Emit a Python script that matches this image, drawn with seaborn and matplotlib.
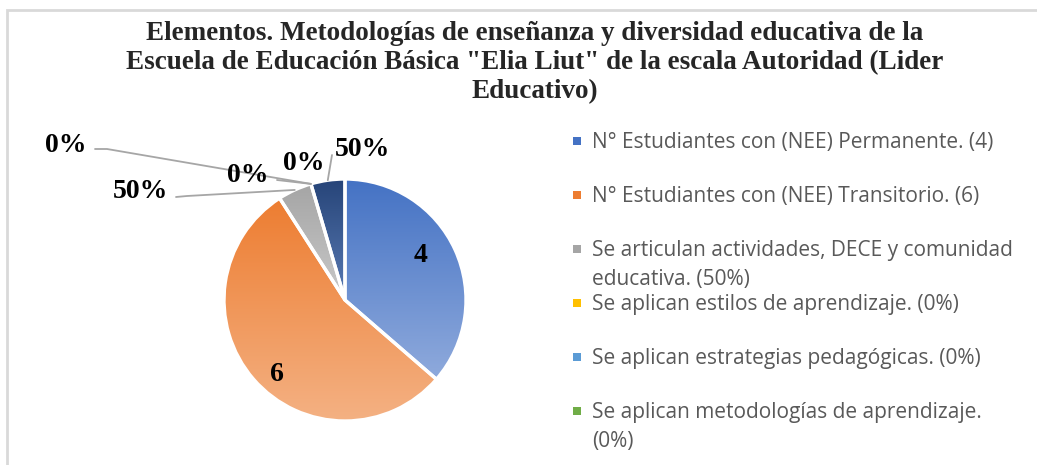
import numpy as np
import matplotlib
matplotlib.use("Agg")
import matplotlib.pyplot as plt
import seaborn as sns
from matplotlib.patches import Rectangle
from matplotlib.colors import to_rgb

# Datos del gráfico
valores = [4, 6, 0.5, 0, 0, 0, 0.5]
etiquetas = ["4", "6", "50%", "0%", "0%", "0%", "50%"]
leyenda = [
    "N° Estudiantes con (NEE) Permanente. (4)",
    "N° Estudiantes con (NEE) Transitorio. (6)",
    "Se articulan actividades, DECE y comunidad\neducativa. (50%)",
    "Se aplican estilos de aprendizaje. (0%)",
    "Se aplican estrategias pedagógicas. (0%)",
    "Se aplican metodologías de aprendizaje.\n(0%)",
]
titulo = ('Elementos. Metodologías de enseñanza y diversidad educativa de la\n'
          'Escuela de Educación Básica "Elia Liut" de la escala Autoridad (Lider\n'
          'Educativo)')

# Colores (degradado de arriba hacia abajo)
color_arriba = ["#4472C4", "#ED7D31", "#A5A5A5", "#FFC000", "#5B9BD5", "#70AD47", "#264478"]
color_abajo = ["#8FAADC", "#F4B183", "#C9C9C9", "#FFD966", "#9DC3E6", "#A9D18E", "#5A7BB4"]

sns.set_theme(style="white")
plt.rcParams["font.family"] = ["Liberation Serif", "DejaVu Sans"]

fig = plt.figure(figsize=(10.37, 4.65), dpi=100)
ax = fig.add_axes([0, 0, 1, 1])

W, H = 1037, 465
cx, cy, r = 345, H - 300, 121

wedges, _ = ax.pie(valores, startangle=90, counterclock=False, center=(cx, cy), radius=r,
                   colors=color_arriba, frame=True,
                   wedgeprops=dict(edgecolor="white", linewidth=2.4))

# relleno degradado de cada porción
t = np.linspace(0, 1, 256)[:, None, None]
for w, c1, c2 in zip(wedges, color_arriba, color_abajo):
    if w.theta2 - w.theta1 <= 0:
        continue
    bb = w.get_path().get_extents()
    img = (1 - t) * np.array(to_rgb(c1)) + t * np.array(to_rgb(c2))
    ax.imshow(img, extent=[bb.x0, bb.x1, bb.y0, bb.y1], origin="upper",
              aspect="auto", zorder=2, clip_path=w)
    w.set_facecolor("none")
    w.set_zorder(3)

# etiquetas de datos (posiciones en píxeles, y hacia abajo)
pos_etq = [(421, 256), (277, 374), (140, 192), (66, 145), (248, 175), (304, 164), (363, 149)]
guias = {2: [(176, 197), (187, 196)], 3: [(95, 149), (107, 149)],
         4: [(277, 180)], 6: [(332, 155)]}

for i, (txt, (x, y)) in enumerate(zip(etiquetas, pos_etq)):
    ax.text(x, H - y, txt, fontsize=20, fontweight="bold", color="black",
            ha="center", va="center", zorder=5)
    if i in guias:
        w = wedges[i]
        ang = np.deg2rad((w.theta1 + w.theta2) / 2)
        px, py = cx + r * np.cos(ang), cy + r * np.sin(ang)
        xs = [p[0] for p in guias[i]] + [px]
        ys = [H - p[1] for p in guias[i]] + [py]
        ax.plot(xs, ys, color="#A6A6A6", lw=1.3, zorder=4)

# leyenda manual
for i, lab in enumerate(leyenda):
    yc = H - (141 + i * 54)
    ax.add_patch(Rectangle((573, yc - 4), 8, 8, color=color_arriba[i], lw=0))
    for j, linea in enumerate(lab.split("\n")):
        ax.text(592, yc - 7 - j * 29, linea, fontsize=15, color="#595959",
                ha="left", va="baseline", family=["Open Sans", "DejaVu Sans"])

# título
fig.text(535 / W, 1 - 21 / H, titulo, fontsize=19.5, fontweight="bold", ha="center",
         va="top", linespacing=1.22)

# borde del área del gráfico
ax.add_patch(Rectangle((7, -20), 1100, H - 10 + 20, fill=False, edgecolor="#D9D9D9",
                       lw=2, clip_on=False))

ax.set_xlim(0, W)
ax.set_ylim(0, H)
ax.axis("off")

fig.savefig("out.png", dpi=100)
